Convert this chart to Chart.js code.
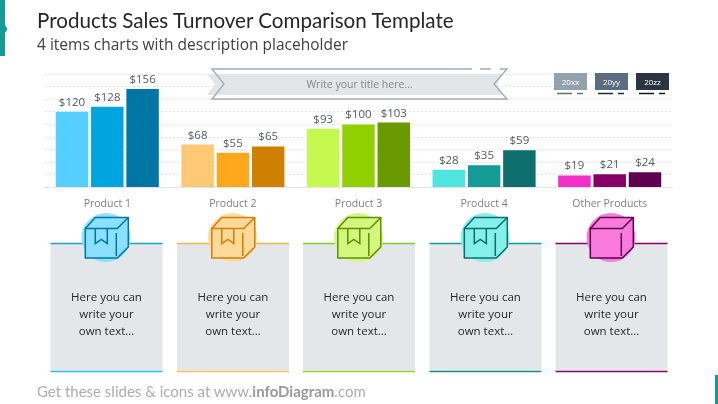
<!DOCTYPE html>
<html>
<head>
<meta charset="utf-8">
<title>Products Sales Turnover Comparison</title>
<script src="https://cdn.jsdelivr.net/npm/chart.js@4/dist/chart.umd.min.js"></script>
<style>
  html, body { margin: 0; padding: 0; width: 718px; height: 404px; overflow: hidden; background: #fff; font-family: "Open Sans", sans-serif; }
  #chart { position: absolute; left: 0; top: 0; }
  #decor { position: absolute; left: 0; top: 0; }
  .abs { position: absolute; white-space: nowrap; }
  #title { left: 37px; top: 5px; font-family: Lato, sans-serif; font-size: 20.6px; line-height: 30px; color: #262626; }
  #subtitle { left: 37px; top: 33px; font-size: 15.5px; line-height: 22px; color: #404040; }
  #ribbonText { left: 212px; width: 295px; top: 76px; text-align: center; font-size: 10.5px; line-height: 16px; color: #7f8790; }
  .legendBox { position: absolute; top: 73px; width: 33px; height: 17px; color: #fff; font-size: 8px; line-height: 17px; text-align: center; }
  .cardText { position: absolute; top: 288px; width: 112px; text-align: center; font-size: 11.5px; line-height: 17.2px; color: #262626; }
  #footer { left: 37px; top: 381px; font-family: Lato, sans-serif; font-size: 15px; line-height: 20px; color: #adadad; }
  #footer b { color: #9a9a9a; }
</style>
</head>
<body>
<canvas id="chart" width="718" height="404"></canvas>
<svg id="decor" width="718" height="404" xmlns="http://www.w3.org/2000/svg"></svg>
<div id="title" class="abs">Products Sales Turnover Comparison Template</div>
<div id="subtitle" class="abs">4 items charts with description placeholder</div>
<div id="ribbonText" class="abs">Write your title here…</div>
<div id="footer" class="abs">Get these slides &amp; icons at www.<b>infoDiagram</b>.com</div>
<script>
// -----------------------------
// Data
// -----------------------------
const categories = ['Product 1', 'Product 2', 'Product 3', 'Product 4', 'Other Products'];
const years = ['20xx', '20yy', '20zz'];
const values20xx = [120, 68, 93, 28, 19];
const values20yy = [128, 55, 100, 35, 21];
const values20zz = [156, 65, 103, 59, 24];
const yTicksMax = 180;
const yTicksStep = 20;
const cardText = ['Here you can', 'write your', 'own text…'];

// -----------------------------
// Colours
// -----------------------------
const colors20xx = ['#55cfff', '#ffc875', '#c5f94f', '#4fe6e0', '#f22fc6'];
const colors20yy = ['#00a4de', '#ffa81c', '#90cf00', '#159a95', '#860068'];
const colors20zz = ['#0076a5', '#d08000', '#6a9a00', '#0d6e6d', '#600050'];
const circleColors = ['#8fe0fb', '#fddca8', '#d6f58c', '#8ceee9', '#f67fdc'];
const cubeColors = ['#8be0ff', '#ffd99a', '#d3f77e', '#84f0ea', '#f97bdc'];
const strokeColors = ['#0076a5', '#d08000', '#5f8f00', '#0d6e6d', '#600050'];
const topLineColors = ['#1f9fcf', '#f5b64a', '#8fc733', '#159a95', '#860068'];
const bottomLineColors = ['#35b8ea', '#f9bd5a', '#9ccf3a', '#0f8f8a', '#860068'];
const legendColors = ['#93a1ae', '#5b6c80', '#2b3540'];
const legendDashColors = ['#5f6f82', '#1e2a44', '#111820'];

// -----------------------------
// Chart
// -----------------------------
const valueLabels = {
  id: 'valueLabels',
  afterDatasetsDraw(chart) {
    const ctx = chart.ctx;
    ctx.save();
    ctx.font = '11.5px "Open Sans", sans-serif';
    ctx.fillStyle = '#555b60';
    ctx.textAlign = 'center';
    ctx.textBaseline = 'alphabetic';
    chart.data.datasets.forEach((ds, i) => {
      chart.getDatasetMeta(i).data.forEach((bar, j) => {
        ctx.fillText('$' + ds.data[j], bar.x, bar.y - 6);
      });
    });
    ctx.restore();
  }
};

const chart = new Chart(document.getElementById('chart').getContext('2d'), {
  type: 'bar',
  data: {
    labels: categories,
    datasets: [
      {label: years[0], data: values20xx, backgroundColor: colors20xx},
      {label: years[1], data: values20yy, backgroundColor: colors20yy},
      {label: years[2], data: values20zz, backgroundColor: colors20zz}
    ]
  },
  options: {
    responsive: false,
    animation: false,
    devicePixelRatio: 1,
    categoryPercentage: 0.843,
    barPercentage: 0.92,
    layout: {padding: {left: 44.5, right: 45.5, top: 74, bottom: 192}},
    plugins: {legend: {display: false}, tooltip: {enabled: false}},
    scales: {
      x: {
        grid: {display: false},
        border: {display: true, color: '#e2e4e6', width: 1},
        ticks: {color: '#7a7f85', font: {size: 10.5, family: '"Open Sans", sans-serif'}, padding: 2, maxRotation: 0}
      },
      y: {
        min: 0,
        max: yTicksMax,
        grid: {color: '#e3e5e7', drawTicks: false},
        border: {display: false, dash: [2, 2]},
        ticks: {display: false, stepSize: yTicksStep}
      }
    }
  },
  plugins: [valueLabels]
});

// -----------------------------
// Decoration: ribbon, corners, legend, cards, icons
// -----------------------------
const svg = document.getElementById('decor');
let markup = '';
markup += '<path d="M0 0H5V25L7.5 29L5 33V56H0Z" fill="#159a95"/>';
markup += '<rect x="715" y="375" width="3" height="29" fill="#159a95"/>';

// ribbon
markup += '<path d="M207 74H503L497 84.5L503 95H207L215 84.5Z" fill="#e3e6e9"/>';
markup += '<path d="M472 69H212L224 84L212 99H507L494 84L507 69H500M491 69H480" fill="none" stroke="#a3acb9" stroke-width="1.4"/>';

// legend dashes
const legendX = [554, 595, 636];
years.forEach((y, i) => {
  const x = legendX[i];
  markup += `<path d="M${x + 3} 93.5H${x + 18}M${x + 23} 93.5H${x + 29}" stroke="${legendDashColors[i]}" stroke-width="1.4" fill="none"/>`;
  const box = document.createElement('div');
  box.className = 'legendBox';
  box.style.left = x + 'px';
  box.style.background = legendColors[i];
  box.textContent = y;
  document.body.appendChild(box);
});

// cards
const cardLeft = [50.5, 177, 303, 429.5, 555.5];
categories.forEach((c, i) => {
  const x = cardLeft[i];
  const s = strokeColors[i];
  const cx = x + 55.5;
  const ox = cx - 20.7; // cube left edge
  markup += `<rect x="${x}" y="243.5" width="112" height="127" fill="#e4e7ea"/>`;
  markup += `<path d="M${x} 243.5H${x + 112}" stroke="${topLineColors[i]}" stroke-width="1.6"/>`;
  markup += `<path d="M${x} 371.5H${x + 112}" stroke="${bottomLineColors[i]}" stroke-width="1.6"/>`;
  markup += `<circle cx="${cx}" cy="237.5" r="24.5" fill="${circleColors[i]}"/>`;
  markup += `<path d="M${ox} 228.5L${ox + 10} 217.5H${ox + 43}V247L${ox + 32} 258H${ox}Z" fill="${cubeColors[i]}" stroke="${s}" stroke-width="1.5" stroke-linejoin="round"/>`;
  markup += `<path d="M${ox} 228.5H${ox + 32}L${ox + 43} 217.5M${ox + 31} 233V256" fill="none" stroke="${s}" stroke-width="1.5"/>`;
  if (i < 4) {
    markup += `<path d="M${ox + 10} 228.5V243.5L${ox + 16} 239.5L${ox + 22} 243.5V228.5" fill="none" stroke="${s}" stroke-width="1.5"/>`;
  }
  const t = document.createElement('div');
  t.className = 'cardText';
  t.style.left = x + 'px';
  t.innerHTML = cardText.join('<br>');
  document.body.appendChild(t);
});
svg.innerHTML = markup;
</script>
</body>
</html>
